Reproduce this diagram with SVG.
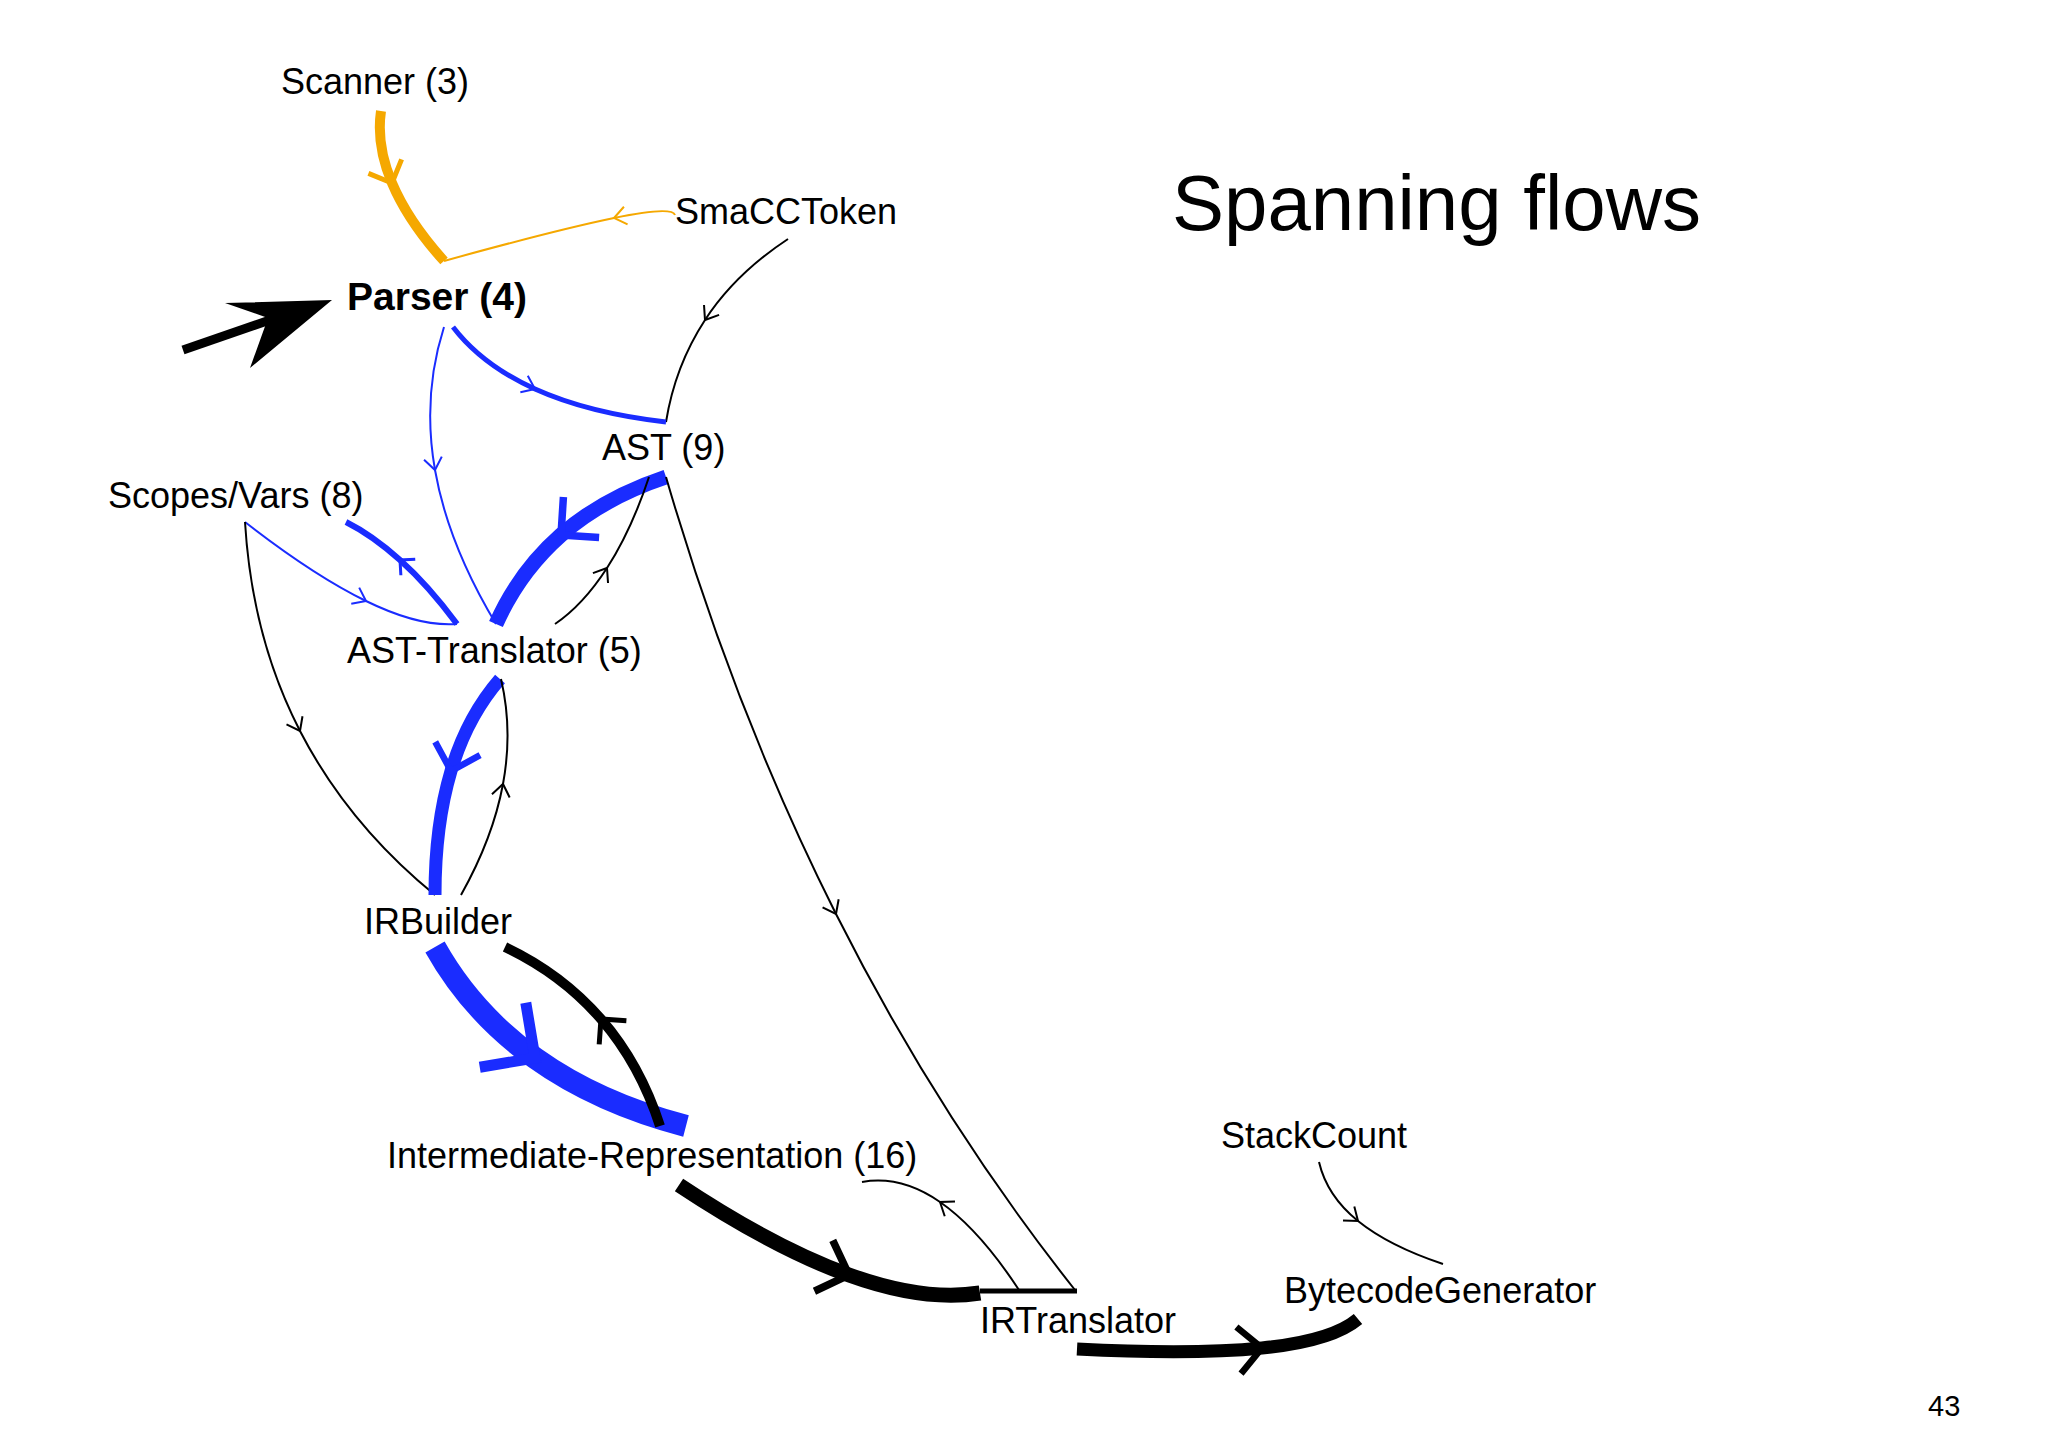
<svg xmlns="http://www.w3.org/2000/svg" width="2048" height="1448" viewBox="0 0 2048 1448">
<style>
text{font-family:"Liberation Sans",Arial,sans-serif;fill:#000}
.l{font-size:36px}
.c{fill:none;stroke-linecap:butt}
.k{stroke:#000}.b{stroke:#1a2cff}.o{stroke:#f5a800}
</style>
<defs>
<marker id="tk" markerUnits="userSpaceOnUse" markerWidth="30" markerHeight="30" viewBox="-15 -15 30 30" orient="auto"><path d="M-12,-9 L0,0 L-12,9" fill="none" stroke="#000" stroke-width="2"/></marker>
<marker id="tb" markerUnits="userSpaceOnUse" markerWidth="30" markerHeight="30" viewBox="-15 -15 30 30" orient="auto"><path d="M-12,-9 L0,0 L-12,9" fill="none" stroke="#1a2cff" stroke-width="2"/></marker>
<marker id="to" markerUnits="userSpaceOnUse" markerWidth="30" markerHeight="30" viewBox="-15 -15 30 30" orient="auto"><path d="M-12,-9 L0,0 L-12,9" fill="none" stroke="#f5a800" stroke-width="2"/></marker>
<marker id="Tk" markerUnits="strokeWidth" markerWidth="6" markerHeight="6" viewBox="-3 -3 6 6" orient="auto" overflow="visible"><path d="M-1.8,-1.8 L0,0 L-1.8,1.8" fill="none" stroke="#000" stroke-width="0.5"/></marker>
<marker id="Tb" markerUnits="strokeWidth" markerWidth="6" markerHeight="6" viewBox="-3 -3 6 6" orient="auto" overflow="visible"><path d="M-1.8,-1.8 L0,0 L-1.8,1.8" fill="none" stroke="#1a2cff" stroke-width="0.5"/></marker>
<marker id="To" markerUnits="strokeWidth" markerWidth="6" markerHeight="6" viewBox="-3 -3 6 6" orient="auto" overflow="visible"><path d="M-1.8,-1.8 L0,0 L-1.8,1.8" fill="none" stroke="#f5a800" stroke-width="0.5"/></marker>
</defs>
<rect width="2048" height="1448" fill="#fff"/>
<text x="1172" y="230" style="font-size:78px">Spanning flows</text>
<text x="1928" y="1416" style="font-size:29px">43</text>
<g id="pointer"><line x1="183" y1="350" x2="290" y2="313" stroke="#000" stroke-width="9"/><polygon points="332,300 250,368 268,318 225,303" fill="#000"/></g>
<g id="connectors">
<path class="c o" stroke-width="10" marker-mid="url(#To)" d="M381,111 Q376,145 392,183 T444,261"/>
<path class="c o" stroke-width="2" marker-mid="url(#to)" d="M675,215 Q672,206 614,218 T444,261"/>
<path class="c k" stroke-width="2" marker-mid="url(#tk)" d="M788,239 Q735,274 705,320 T666,422"/>
<path class="c b" stroke-width="5" marker-mid="url(#tb)" d="M453,327 Q482,365 535,389 T666,422"/>
<path class="c b" stroke-width="2" marker-mid="url(#tb)" d="M444,327 Q422,396 435,470 T496,624"/>
<path class="c b" stroke-width="15" marker-mid="url(#Tb)" d="M666,477 Q603,498 561,535 T496,624"/>
<path class="c k" stroke-width="2" marker-mid="url(#tk)" d="M555,624 Q583,605 607,568 T649,477"/>
<path class="c b" stroke-width="6" marker-mid="url(#Tb)" d="M457,624 Q428,585 400,560 T346,522"/>
<path class="c b" stroke-width="2" marker-mid="url(#tb)" d="M245,522 Q313,575 366,601 T457,624"/>
<path class="c k" stroke-width="2" marker-mid="url(#tk)" d="M245,522 Q252,638 300,731 T435,895"/>
<path class="c b" stroke-width="13" marker-mid="url(#Tb)" d="M500,679 Q467,717 451,771 T435,895"/>
<path class="c k" stroke-width="2" marker-mid="url(#tk)" d="M461,895 Q493,838 503,784 T501,679"/>
<path class="c k" stroke-width="2" marker-mid="url(#tk)" d="M666,477 Q734,711 836,914 T1075,1290"/>
<path class="c b" stroke-width="22" marker-mid="url(#Tb)" d="M435,947 Q472,1013 535,1058 T686,1126"/>
<path class="c k" stroke-width="10" marker-mid="url(#Tk)" d="M660,1126 Q640,1064 601,1019 T505,947"/>
<path class="c k" stroke-width="15" marker-mid="url(#Tk)" d="M679,1185 Q774,1248 849,1275 T980,1293"/>
<path class="c k" stroke-width="2" marker-mid="url(#tk)" d="M1019,1290 Q979,1229 940,1202 T862,1182"/>
<line x1="980" y1="1291" x2="1077" y2="1291" stroke="#000" stroke-width="5"/>
<path class="c k" stroke-width="13" marker-mid="url(#Tk)" d="M1077,1349 Q1192,1355 1262,1348 T1358,1319"/>
<path class="c k" stroke-width="2" marker-mid="url(#tk)" d="M1319,1162 Q1327,1196 1358,1221 T1443,1264"/>
</g>
<g id="scanner"><text class="l" x="281" y="94">Scanner (3)</text></g>
<g id="smacctoken"><text class="l" x="675" y="224">SmaCCToken</text></g>
<g id="parser"><text x="347" y="310" style="font-size:39px;font-weight:bold">Parser (4)</text></g>
<g id="ast"><text class="l" x="602" y="460">AST (9)</text></g>
<g id="scopes"><text class="l" x="108" y="508">Scopes/Vars (8)</text></g>
<g id="asttranslator"><text class="l" x="347" y="663">AST-Translator (5)</text></g>
<g id="irbuilder"><text class="l" x="364" y="934">IRBuilder</text></g>
<g id="ir"><text class="l" x="387" y="1168">Intermediate-Representation (16)</text></g>
<g id="irtranslator"><text class="l" x="980" y="1333">IRTranslator</text></g>
<g id="stackcount"><text class="l" x="1221" y="1148">StackCount</text></g>
<g id="bytecodegenerator"><text class="l" x="1284" y="1303">BytecodeGenerator</text></g>
</svg>
